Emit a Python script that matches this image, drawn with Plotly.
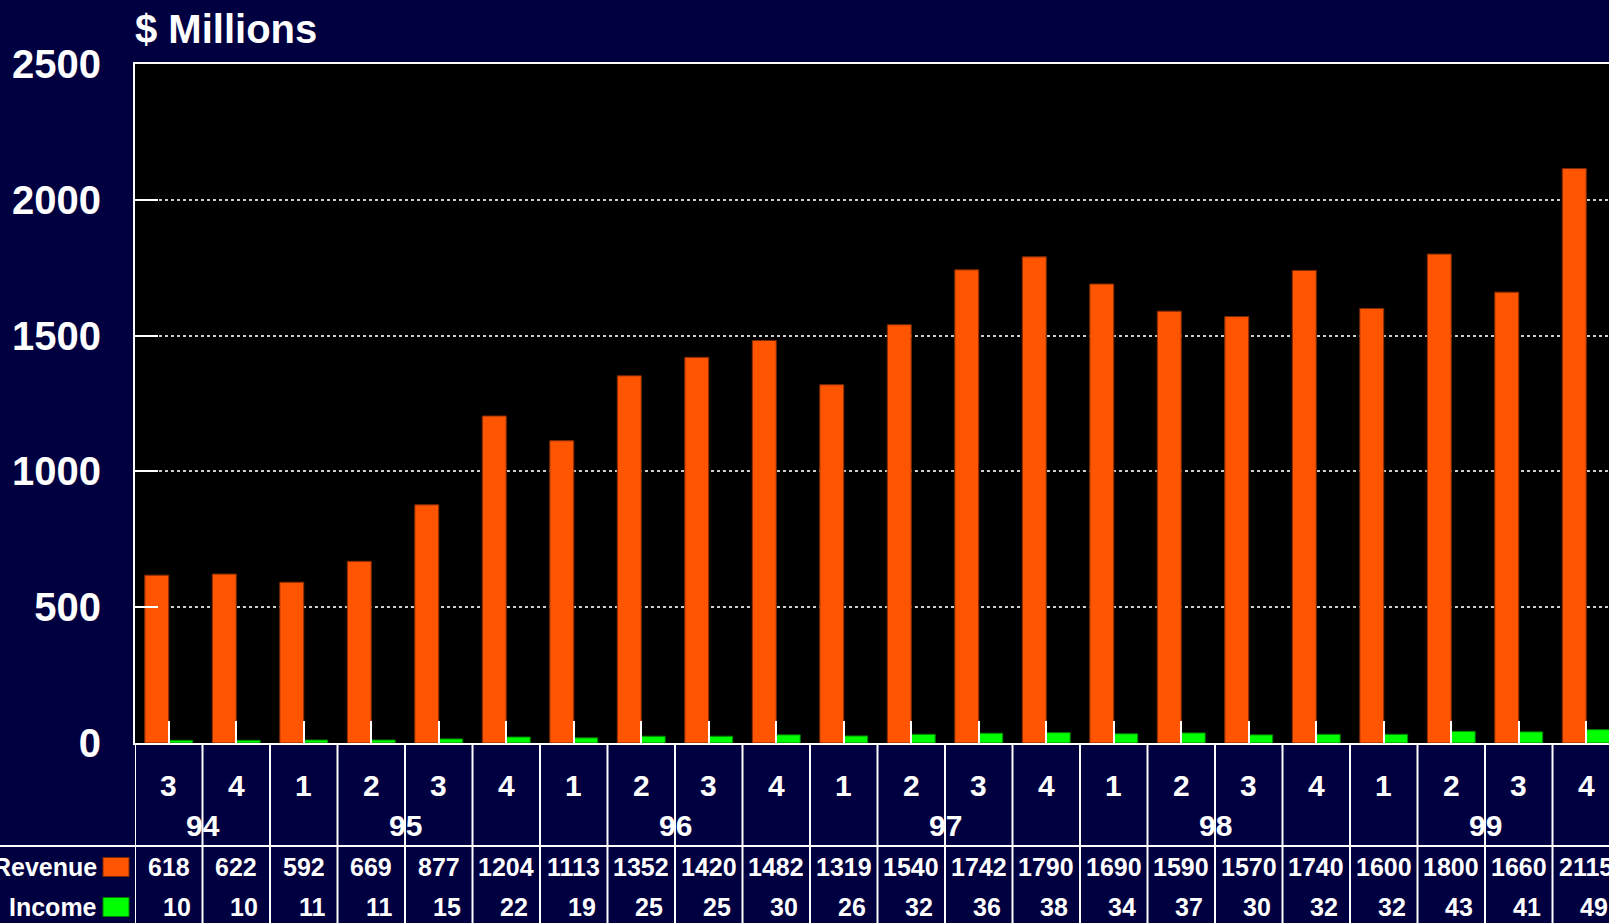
import plotly.graph_objects as go

quarters = ["3", "4", "1", "2", "3", "4", "1", "2", "3", "4", "1", "2",
            "3", "4", "1", "2", "3", "4", "1", "2", "3", "4"]
years = ["94", "95", "96", "97", "98", "99"]
year_counts = [2, 4, 4, 4, 4, 4]
revenue = [618, 622, 592, 669, 877, 1204, 1113, 1352, 1420, 1482, 1319,
           1540, 1742, 1790, 1690, 1590, 1570, 1740, 1600, 1800, 1660, 2115]
income = [10, 10, 11, 11, 15, 22, 19, 25, 25, 30, 26,
          32, 36, 38, 34, 37, 30, 32, 32, 43, 41, 49]

W, H = 1609, 923
L, T, B = 135, 64, 743          # plot area pixel edges
CELL = 67.5                     # pixel width of one category
PW, PH = W - L, B - T
FONT = "Liberation Sans, Arial, sans-serif"
NAVY = "#000040"
ORANGE = "#FF5500"
GREEN = "#00FF00"

def py(p):   # pixel y -> paper y
    return (B - p) / PH

def px(p):   # pixel x -> paper x
    return (p - L) / PW

idx = list(range(len(quarters)))

fig = go.Figure()
fig.add_bar(x=idx, y=revenue, name="Revenue", marker=dict(color=ORANGE, line=dict(color="#802a00", width=1)))
fig.add_bar(x=idx, y=income, name="Income", marker=dict(color=GREEN, line=dict(color="#008000", width=1)))

ann = []
shapes = []
# title
ann.append(dict(text="<b>$ Millions</b>", xref="paper", yref="paper", x=px(133), y=py(29),
                xanchor="left", yanchor="middle", showarrow=False,
                font=dict(family=FONT, size=40, color="white")))
# quarter labels, table values
for i, q in enumerate(quarters):
    ann.append(dict(text="<b>%s</b>" % q, xref="x", yref="paper", x=i, y=py(785),
                    xanchor="center", yanchor="middle", showarrow=False,
                    font=dict(family=FONT, size=30, color="white")))
    ann.append(dict(text="<b>%d</b>" % revenue[i], xref="x", yref="paper", x=i, y=py(867),
                    xanchor="center", yanchor="middle", showarrow=False,
                    font=dict(family=FONT, size=25, color="white")))
    ann.append(dict(text="<b>%d</b>" % income[i], xref="x", yref="paper", x=i, y=py(907),
                    xanchor="right", xshift=24, yanchor="middle", showarrow=False,
                    font=dict(family=FONT, size=25, color="white")))
# year labels
start = 0
for yv, c in zip(years, year_counts):
    center = start + (c - 1) / 2
    ann.append(dict(text="<b>%s</b>" % yv, xref="x", yref="paper", x=center, y=py(825),
                    xanchor="center", yanchor="middle", showarrow=False,
                    font=dict(family=FONT, size=30, color="white")))
    start += c
# row labels with colour boxes
for name, ypix, col in [("Revenue", 867, ORANGE), ("Income", 907, GREEN)]:
    ann.append(dict(text="<b>%s</b>" % name, xref="paper", yref="paper", x=px(99), y=py(ypix),
                    xanchor="right", yanchor="middle", showarrow=False,
                    font=dict(family=FONT, size=25, color="white")))
    shapes.append(dict(type="rect", xref="paper", yref="paper", x0=px(103), x1=px(129),
                       y0=py(ypix - 9.5), y1=py(ypix + 9.5), fillcolor=col,
                       line=dict(color="#802a00" if col == ORANGE else "#008000", width=1)))
# table grid lines
for i in range(len(quarters) + 1):
    shapes.append(dict(type="line", xref="x", yref="paper", x0=i - 0.5, x1=i - 0.5,
                       y0=0, y1=py(H + 5), line=dict(color="white", width=2)))
shapes.append(dict(type="line", xref="paper", yref="paper", x0=px(0), x1=px(W + 5),
                   y0=py(846), y1=py(846), line=dict(color="white", width=2)))

fig.update_layout(
    width=W, height=H,
    margin=dict(l=L, r=0, t=T, b=H - B, pad=0),
    paper_bgcolor=NAVY, plot_bgcolor="black",
    barmode="group", bargap=0.29, bargroupgap=0,
    showlegend=False,
    annotations=ann, shapes=shapes,
    font=dict(family=FONT, color="white"),
)
fig.update_xaxes(range=[-0.5, -0.5 + PW / CELL], tickvals=idx, showticklabels=False,
                 ticks="inside", ticklen=22, tickwidth=2, tickcolor="white",
                 showline=True, linecolor="white", linewidth=2, mirror=True,
                 showgrid=False, zeroline=False, fixedrange=True)
fig.update_yaxes(range=[0, 2500], tickvals=[0, 500, 1000, 1500, 2000, 2500],
                 ticktext=["<b>%d</b>" % v for v in [0, 500, 1000, 1500, 2000, 2500]],
                 tickfont=dict(family=FONT, size=40, color="white"),
                 ticks="inside", ticklen=23, tickwidth=2, tickcolor="white",
                 ticklabelstandoff=24,
                 showline=True, linecolor="white", linewidth=2,
                 showgrid=True, gridcolor="#cccccc", griddash="dot", gridwidth=2,
                 zeroline=False, fixedrange=True)

fig.write_html("out.html", config={"displayModeBar": False})

# remove the default page margin so the figure fills the window exactly
with open("out.html", "r", encoding="utf-8") as f:
    html = f.read()
html = html.replace("<head>", "<head><style>html,body{margin:0;padding:0;overflow:hidden;background:#000040;}</style>", 1)
with open("out.html", "w", encoding="utf-8") as f:
    f.write(html)
